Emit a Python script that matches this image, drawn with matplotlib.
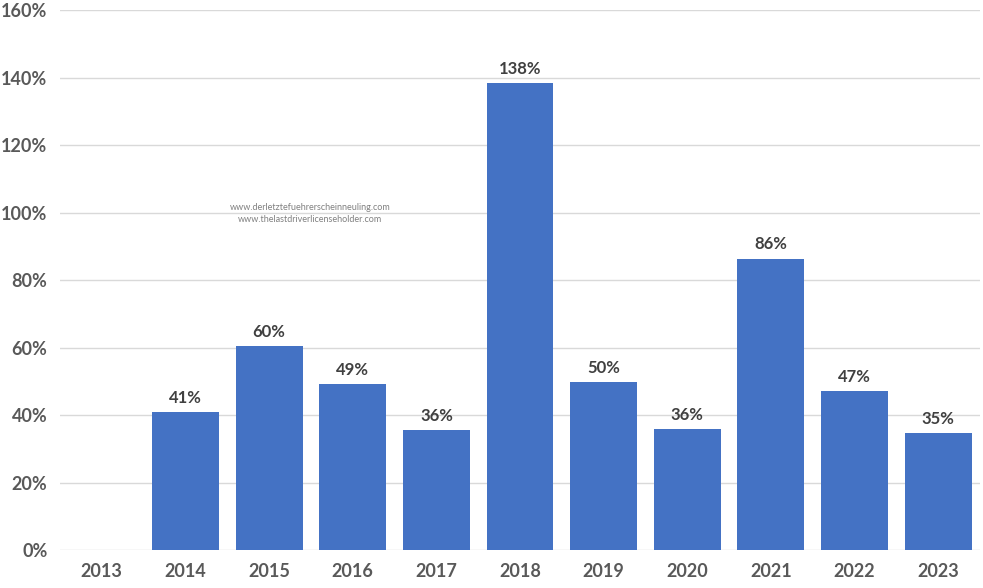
import numpy as np
import matplotlib
matplotlib.use("Agg")
import matplotlib.pyplot as plt
import matplotlib.ticker as mticker

years = ["2013", "2014", "2015", "2016", "2017", "2018", "2019", "2020", "2021", "2022", "2023"]
growth = [np.nan, 41, 60.5, 49.3, 35.6, 138.3, 49.9, 35.9, 86.4, 47.2, 34.8]
labels = ["", "41%", "60%", "49%", "36%", "138%", "50%", "36%", "86%", "47%", "35%"]

plt.rcParams["font.family"] = ["Lato", "DejaVu Sans"]

fig = plt.figure(figsize=(9.83, 5.88), dpi=100)
ax = fig.add_axes([0.061, 0.0646, 0.936, 0.918])

x = np.arange(len(years))
bars = ax.bar(x, growth, width=0.8, color="#4472C4", zorder=3)

# value labels above bars
for xi, v, lab in zip(x, growth, labels):
    if np.isnan(v):
        continue
    ax.text(xi, v + 1.8, lab, ha="center", va="bottom", fontsize=12,
            fontweight="bold", color="#404040")

ax.set_xlim(-0.5, len(years) - 0.5)
ax.set_ylim(0, 160)
ax.yaxis.set_major_locator(mticker.MultipleLocator(20))
ax.yaxis.set_major_formatter(mticker.FuncFormatter(lambda v, _: f"{v:.0f}%"))
ax.set_xticks(x)
ax.set_xticklabels(years)
ax.grid(axis="y", color="#D9D9D9", linewidth=1, zorder=0)
for s in ax.spines.values():
    s.set_visible(False)
ax.tick_params(length=0, labelsize=13, labelcolor="#595959", pad=9)
for t in ax.get_xticklabels() + ax.get_yticklabels():
    t.set_fontweight("bold")

ax.text(310 / 983, 1 - 207 / 588, "www.derletztefuehrerscheinneuling.com",
        transform=fig.transFigure, ha="center", va="center", fontsize=6.5, color="#808080")
ax.text(310 / 983, 1 - 220 / 588, "www.thelastdriverlicenseholder.com",
        transform=fig.transFigure, ha="center", va="center", fontsize=6.5, color="#808080")

fig.savefig("out.png", dpi=100)
